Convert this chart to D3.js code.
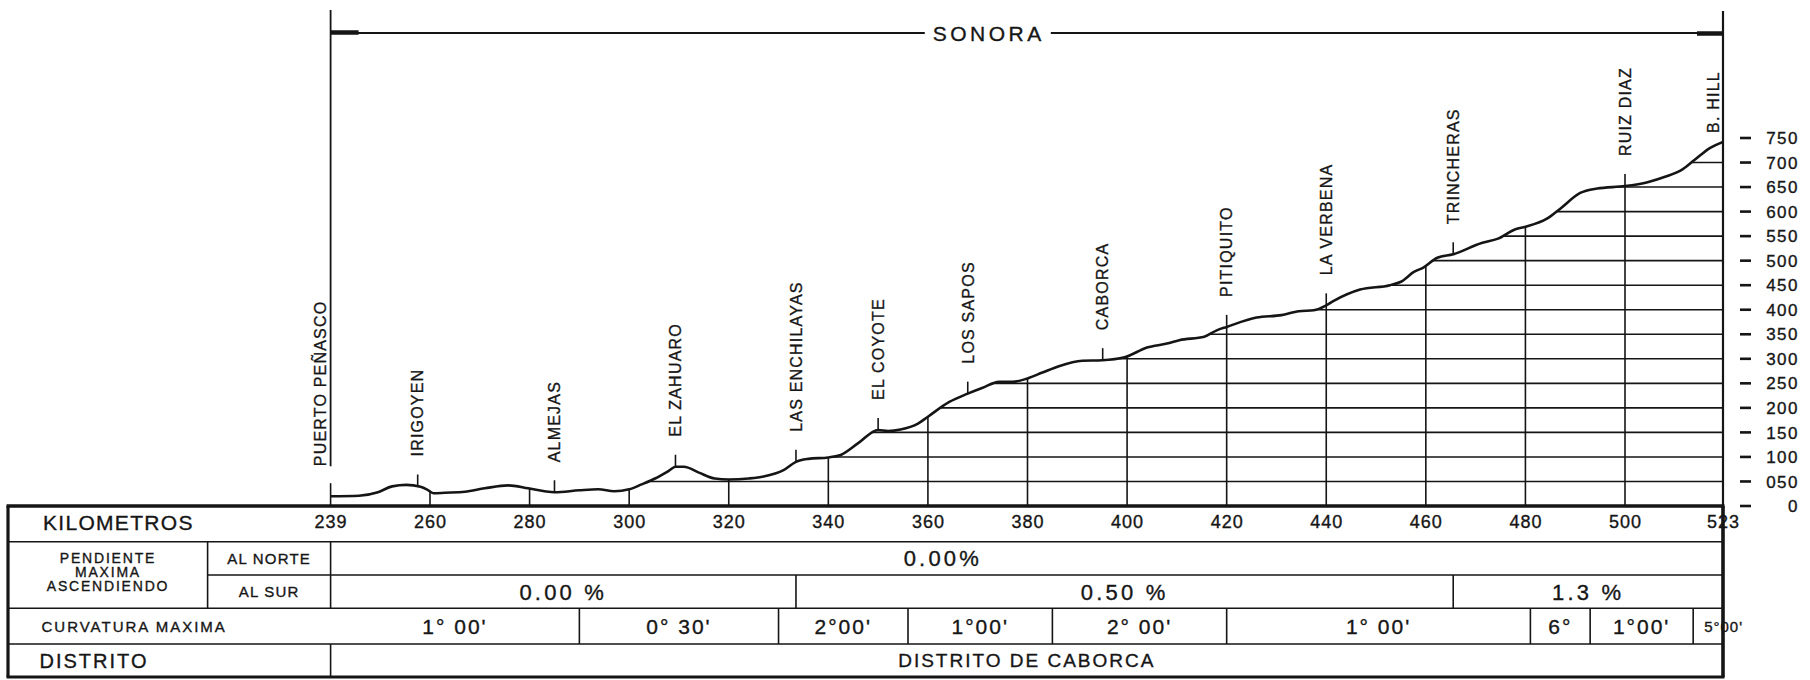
<!DOCTYPE html>
<html><head><meta charset="utf-8">
<script src="https://cdn.jsdelivr.net/npm/d3@7"></script>
<style>
html,body{margin:0;padding:0;background:#fff;}
svg{display:block;}
text{font-family:"Liberation Sans", Arial, sans-serif; fill:#161616; stroke:#161616; stroke-width:0.35px;}
</style></head><body>
<svg id="c" width="1810" height="680"></svg>
<script>
// ---------------- DATA ----------------
const kmTicks = [239,260,280,300,320,340,360,380,400,420,440,460,480,500,523];
const gridKm = [260,280,300,320,340,360,380,400,420,440,460,480,500];
const elevTicks = [0,50,100,150,200,250,300,350,400,450,500,550,600,650,700,750];
const elevTickLabels = ["0","050","100","150","200","250","300","350","400","450","500","550","600","650","700","750"];

const profileKm = [239,245,249,252,255,258,259.3,260.7,263,267,271,275.7,279.7,283,285,290,293.8,297,300,302.5,305.2,308,309.3,311,314,317.2,320,324,327,331,333.5,336,340,342.5,346,350,352,354.5,358,360,364.3,368,371,374.3,377,380,383,386.3,391,395,399.5,404,408,410.5,415.5,418,420,426,431,434.5,437.5,440,441.5,446.8,452.8,455,457.6,459.5,462.3,465.5,471.2,474.5,478,480,484.4,487,491,494.4,500,505.3,509.4,513.5,516.3,520,523];
const profileElev = [20,21,28,40,43,39,34,26,27,29,36,42,36,30,28,32,34,30,34,44,56,72,80,80,68,56,54,56,60,73,90,96,99,104,128,155,153,156,168,182,212,229,241,253,253,260,272,285,296,297,303,323,331,338,345,358,365,384,389,397,399,409,418,441,450,457,477,486,506,513,536,545,564,569,586,606,638,647,652,660,671,686,705,730,742];

const stationNames = ["PUERTO PEÑASCO","IRIGOYEN","ALMEJAS","EL ZAHUARO","LAS ENCHILAYAS","EL COYOTE","LOS SAPOS","CABORCA","PITIQUITO","LA VERBENA","TRINCHERAS","RUIZ DIAZ","B. HILL"];
const stationKm = [239,257.4,285,309.3,333.5,350,368,395.1,420,440,465.5,500,523];

const regionName = "SONORA";

const slopeNorthBreaks = [239,523];
const slopeNorthLabels = ["0.00%"];
const slopeNorthLabelKm = [363];
const slopeSouthBreaks = [239,333.5,465.5,523];
const slopeSouthLabels = ["0.00 %","0.50 %","1.3 %"];
const curveBreaks = [239,290,330,356,385,420,481,493,516,523];
const curveLabels = ["1° 00'","0° 30'","2°00'","1°00'","2° 00'","1° 00'","6°","1°00'","5°00'"];
const districtBreaks = [239,523];
const districtLabels = ["DISTRITO DE CABORCA"];

// ---------------- LAYOUT ----------------
const ink = "#151515";
const svg = d3.select("#c");
const x = d3.scaleLinear().domain([239,260,500,523]).range([330.6,430,1625,1723]);
const y = d3.scaleLinear().domain([0,750]).range([506,138]);
const x0 = x(239), x1 = x(523);
const tableLeft = 8, colA = 207.6;
const rowY = [506, 541.7, 575, 608.3, 644, 677];

const profile = profileKm.map((k,i)=>({km:k, elev:profileElev[i]}));
const crv = d3.curveMonotoneX;
const line = d3.line().x(d=>x(d.km)).y(d=>y(d.elev)).curve(crv);
const area = d3.area().x(d=>x(d.km)).y0(y(0)).y1(d=>y(d.elev)).curve(crv);
const bis = d3.bisector(d=>d.km).left;
function elevAt(km){
  const i = bis(profile, km);
  if(i<=0) return profile[0].elev;
  if(i>=profile.length) return profile[profile.length-1].elev;
  const a=profile[i-1], b=profile[i];
  return a.elev + (km-a.km)/(b.km-a.km)*(b.elev-a.elev);
}

svg.append("defs").append("clipPath").attr("id","under")
  .append("path").attr("d", area(profile));

// grid under profile
const grid = svg.append("g").attr("clip-path","url(#under)")
  .attr("stroke", ink).attr("stroke-width",1.6);
grid.selectAll("line.h").data(elevTicks.filter(v=>v>0)).join("line")
  .attr("x1",x0).attr("x2",x1).attr("y1",d=>y(d)).attr("y2",d=>y(d));
grid.selectAll("line.v").data(gridKm).join("line")
  .attr("x1",d=>x(d)).attr("x2",d=>x(d)).attr("y1",y(0)).attr("y2",y(800));

// profile
svg.append("path").attr("d", line(profile)).attr("fill","none")
  .attr("stroke", ink).attr("stroke-width",2.6).attr("stroke-linejoin","round");

// stations
const st = svg.append("g");
stationNames.forEach((name,i)=>{
  const km = stationKm[i];
  const px = x(km), py = y(elevAt(km));
  const isStart = km===kmTicks[0], isEnd = km===kmTicks[kmTicks.length-1];
  if(isStart){
    st.append("line").attr("x1",px).attr("x2",px).attr("y1",y(0)).attr("y2",py-13)
      .attr("stroke",ink).attr("stroke-width",1.6);
    st.append("line").attr("x1",px).attr("x2",px).attr("y1",10).attr("y2",py-30)
      .attr("stroke",ink).attr("stroke-width",1.8);
  } else if(!isEnd){
    st.append("line").attr("x1",px).attr("x2",px).attr("y1",py).attr("y2",py-12)
      .attr("stroke",ink).attr("stroke-width",1.6);
  }
  const lx = (isStart||isEnd) ? px-10 : px;
  const ly = isEnd ? py-9 : py-30;
  st.append("text").attr("transform",`translate(${lx},${ly}) rotate(-90)`)
    .attr("dy","0.36em").attr("font-size",16).attr("letter-spacing",1.2)
    .text(name);
});

// region bracket
const sonY = 33;
const sonCx = (x0+x1)/2 - 38;
const sonT = svg.append("text").attr("x",sonCx).attr("y",sonY).attr("dy","0.36em")
  .attr("text-anchor","middle").attr("font-size",21).attr("letter-spacing",3.5).text(regionName);
const bb = sonT.node().getBBox();
const br = svg.append("g").attr("stroke",ink);
br.append("line").attr("x1",x0).attr("x2",bb.x-8).attr("y1",sonY).attr("y2",sonY).attr("stroke-width",1.8);
br.append("line").attr("x1",bb.x+bb.width+6).attr("x2",x1).attr("y1",sonY).attr("y2",sonY).attr("stroke-width",1.8);
br.append("line").attr("x1",x0).attr("x2",x0+28).attr("y1",sonY-0.5).attr("y2",sonY-0.5).attr("stroke-width",4.5);
br.append("line").attr("x1",x1-26).attr("x2",x1).attr("y1",sonY+0.5).attr("y2",sonY+0.5).attr("stroke-width",4.5);
br.append("line").attr("x1",x1).attr("x2",x1).attr("y1",11).attr("y2",y(0)).attr("stroke-width",2.2);

// right elevation axis
const ra = svg.append("g");
elevTicks.forEach((v,i)=>{
  ra.append("line").attr("x1",1740).attr("x2",1751).attr("y1",y(v)).attr("y2",y(v))
    .attr("stroke",ink).attr("stroke-width",2.6);
  ra.append("text").attr("x",1799).attr("y",y(v)).attr("dy","0.36em")
    .attr("text-anchor","end").attr("font-size",17).attr("letter-spacing",1.5)
    .text(elevTickLabels[i]);
});

// km axis
const ax = svg.append("g").attr("transform",`translate(0,${y(0)})`)
  .call(d3.axisBottom(x).tickValues(kmTicks).tickSize(0).tickPadding(9).tickFormat(d3.format("d")));
ax.select(".domain").remove();
ax.selectAll("text").attr("font-size",18).attr("letter-spacing",1)
  .attr("font-family","Liberation Sans, Arial, sans-serif").attr("fill",ink);

// table lines
const tb = svg.append("g").attr("stroke",ink).attr("stroke-width",1.6);
function hl(xa,xb,yy,w){tb.append("line").attr("x1",xa).attr("x2",xb).attr("y1",yy).attr("y2",yy).attr("stroke-width",w||1.6);}
function vl(xx,ya,yb,w){tb.append("line").attr("x1",xx).attr("x2",xx).attr("y1",ya).attr("y2",yb).attr("stroke-width",w||1.6);}
hl(tableLeft,x1,rowY[1]); hl(colA,x1,rowY[2]); hl(tableLeft,x1,rowY[3]); hl(tableLeft,x1,rowY[4]);
vl(colA,rowY[1],rowY[3]); vl(x0,rowY[1],rowY[3]); vl(x0,rowY[4],rowY[5]);
slopeSouthBreaks.slice(1,-1).forEach(k=>vl(x(k),rowY[2],rowY[3]));
curveBreaks.slice(1,-1).forEach(k=>vl(x(k),rowY[3],rowY[4]));
hl(tableLeft-1.5,x1+1.5,rowY[0],3.6);
hl(tableLeft-1.5,x1+1.5,rowY[5],3.2);
vl(tableLeft,rowY[0],rowY[5],3.2);
vl(x1,rowY[0],rowY[5],3.6);

// table texts
const tt = svg.append("g");
function txt(xx,yy,s,size,ls,anchor){
  return tt.append("text").attr("x",xx).attr("y",yy).attr("dy","0.36em")
    .attr("font-size",size).attr("letter-spacing",ls).attr("text-anchor",anchor||"middle").text(s);
}
const mid=(a,b)=>(a+b)/2;
txt(43, mid(rowY[0],rowY[1])-1, "KILOMETROS", 21, 1.3, "start");
txt(108, 558, "PENDIENTE", 14, 1.8);
txt(108, 572, "MAXIMA", 14, 1.8);
txt(108, 586, "ASCENDIENDO", 14, 1.8);
txt(mid(colA,x0), mid(rowY[1],rowY[2]), "AL NORTE", 15, 1.2);
txt(mid(colA,x0), mid(rowY[2],rowY[3]), "AL SUR", 15, 1.2);
txt(41.5, mid(rowY[3],rowY[4]), "CURVATURA MAXIMA", 15, 2, "start");
txt(39.5, mid(rowY[4],rowY[5]), "DISTRITO", 20, 2, "start");

slopeNorthLabels.forEach((s,i)=>txt(x(slopeNorthLabelKm[i]), mid(rowY[1],rowY[2]), s, 22, 3.2));
slopeSouthLabels.forEach((s,i)=>txt(mid(x(slopeSouthBreaks[i]),x(slopeSouthBreaks[i+1])), mid(rowY[2],rowY[3]), s, 22, 3.2));
curveLabels.forEach((s,i)=>{
  const a=x(curveBreaks[i]), b=x(curveBreaks[i+1]);
  const t = txt(mid(a,b), mid(rowY[3],rowY[4]), s, 21, 2);
  if(t.node().getComputedTextLength() > (b-a)-8){
    t.attr("font-size",15).attr("letter-spacing",1).attr("text-anchor","start").attr("x",a+11);
  }
});
districtLabels.forEach((s,i)=>txt(mid(x(districtBreaks[i]),x(districtBreaks[i+1])), mid(rowY[4],rowY[5]), s, 19, 2));
</script>
</body></html>
